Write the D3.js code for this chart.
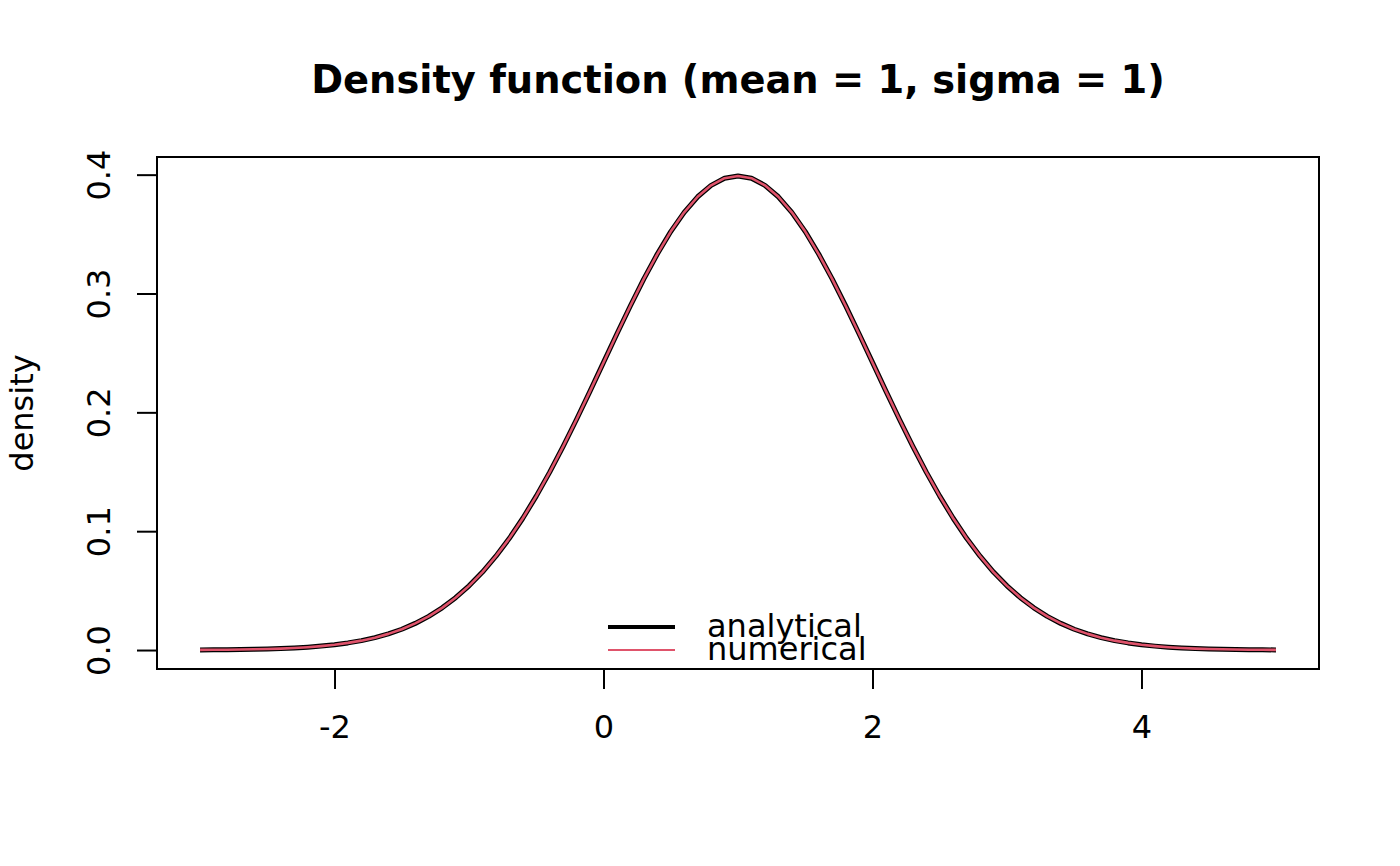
<!DOCTYPE html>
<html>
<head>
<meta charset="utf-8">
<script src="https://cdn.jsdelivr.net/npm/d3@7"></script>
<style>
  body { margin: 0; background: #fff; }
  text { font-family: "DejaVu Sans", sans-serif; fill: #000; }
</style>
</head>
<body>
<div id="chart-area"></div>
<script>
// grid of x values the density was evaluated at
var xValues = [-3.0, -2.9, -2.8, -2.7, -2.6, -2.5, -2.4, -2.3, -2.2, -2.1,
    -2.0, -1.9, -1.8, -1.7, -1.6, -1.5, -1.4, -1.3, -1.2, -1.1,
    -1.0, -0.9, -0.8, -0.7, -0.6, -0.5, -0.4, -0.3, -0.2, -0.1,
    0.0, 0.1, 0.2, 0.3, 0.4, 0.5, 0.6, 0.7, 0.8, 0.9,
    1.0, 1.1, 1.2, 1.3, 1.4, 1.5, 1.6, 1.7, 1.8, 1.9,
    2.0, 2.1, 2.2, 2.3, 2.4, 2.5, 2.6, 2.7, 2.8, 2.9,
    3.0, 3.1, 3.2, 3.3, 3.4, 3.5, 3.6, 3.7, 3.8, 3.9,
    4.0, 4.1, 4.2, 4.3, 4.4, 4.5, 4.6, 4.7, 4.8, 4.9, 5.0];

var analytical = [0.0001, 0.0002, 0.0003, 0.0004, 0.0006, 0.0009, 0.0012, 0.0017, 0.0024, 0.0033,
    0.0044, 0.0060, 0.0079, 0.0104, 0.0136, 0.0175, 0.0224, 0.0283, 0.0355, 0.0440,
    0.0540, 0.0656, 0.0790, 0.0940, 0.1109, 0.1295, 0.1497, 0.1714, 0.1942, 0.2179,
    0.2420, 0.2661, 0.2897, 0.3123, 0.3332, 0.3521, 0.3683, 0.3814, 0.3910, 0.3970,
    0.3989, 0.3970, 0.3910, 0.3814, 0.3683, 0.3521, 0.3332, 0.3123, 0.2897, 0.2661,
    0.2420, 0.2179, 0.1942, 0.1714, 0.1497, 0.1295, 0.1109, 0.0940, 0.0790, 0.0656,
    0.0540, 0.0440, 0.0355, 0.0283, 0.0224, 0.0175, 0.0136, 0.0104, 0.0079, 0.0060,
    0.0044, 0.0033, 0.0024, 0.0017, 0.0012, 0.0009, 0.0006, 0.0004, 0.0003, 0.0002, 0.0001];

var numerical = [0.0001, 0.0002, 0.0003, 0.0004, 0.0006, 0.0009, 0.0012, 0.0017, 0.0024, 0.0033,
    0.0044, 0.0060, 0.0079, 0.0104, 0.0136, 0.0175, 0.0224, 0.0283, 0.0355, 0.0440,
    0.0540, 0.0656, 0.0790, 0.0940, 0.1109, 0.1295, 0.1497, 0.1714, 0.1942, 0.2179,
    0.2420, 0.2661, 0.2897, 0.3123, 0.3332, 0.3521, 0.3683, 0.3814, 0.3910, 0.3970,
    0.3989, 0.3970, 0.3910, 0.3814, 0.3683, 0.3521, 0.3332, 0.3123, 0.2897, 0.2661,
    0.2420, 0.2179, 0.1942, 0.1714, 0.1497, 0.1295, 0.1109, 0.0940, 0.0790, 0.0656,
    0.0540, 0.0440, 0.0355, 0.0283, 0.0224, 0.0175, 0.0136, 0.0104, 0.0079, 0.0060,
    0.0044, 0.0033, 0.0024, 0.0017, 0.0012, 0.0009, 0.0006, 0.0004, 0.0003, 0.0002, 0.0001];

var xTicks = [-2, 0, 2, 4];
var yTicks = [0.0, 0.1, 0.2, 0.3, 0.4];
var legendLabels = ['analytical', 'numerical'];

var W = 1400, H = 866;
var box = { left: 157, right: 1319, top: 157, bottom: 669 };

var svg = d3.select('#chart-area')
    .append('svg')
    .attr('width', W)
    .attr('height', H);

// R style: data range padded by 4% on each side
var xMin = d3.min(xValues), xMax = d3.max(xValues);
var xPad = (xMax - xMin) * 0.04;
var xScale = d3.scaleLinear()
    .domain([xMin - xPad, xMax + xPad])
    .range([box.left, box.right]);

var yMax = d3.max(analytical);
var yPad = yMax * 0.04;
var yScale = d3.scaleLinear()
    .domain([0 - yPad, yMax + yPad])
    .range([box.bottom, box.top]);

// axes
var xAxis = svg.append('g')
    .attr('transform', 'translate(0,' + box.bottom + ')')
    .call(d3.axisBottom(xScale).tickValues(xTicks).tickSize(20).tickPadding(14)
        .tickFormat(function(d) { return d < 0 ? '-' + Math.abs(d) : d; }));
xAxis.select('.domain')
    .attr('d', 'M' + xScale(xTicks[0]) + ',0H' + xScale(xTicks[xTicks.length - 1]));
xAxis.selectAll('line').attr('stroke-width', 2);
xAxis.selectAll('text')
    .attr('font-size', '32px')
    .attr('font-family', 'DejaVu Sans')
    .attr('dy', null)
    .attr('y', 69);

var yAxis = svg.append('g')
    .attr('transform', 'translate(' + box.left + ',0)')
    .call(d3.axisLeft(yScale).tickValues(yTicks).tickSize(20)
        .tickFormat(d3.format('.1f')));
yAxis.select('.domain').remove();
yAxis.selectAll('line').attr('stroke-width', 2);
yAxis.selectAll('text')
    .attr('font-size', '32px')
    .attr('font-family', 'DejaVu Sans')
    .attr('text-anchor', 'middle')
    .attr('x', null)
    .attr('dy', null)
    .attr('transform', 'translate(-47,0) rotate(-90)');

xAxis.select('.domain').attr('stroke-width', 2);

// plot box
svg.append('rect')
    .attr('x', box.left)
    .attr('y', box.top)
    .attr('width', box.right - box.left)
    .attr('height', box.bottom - box.top)
    .attr('fill', 'none')
    .attr('stroke', '#000')
    .attr('stroke-width', 2);

// curves
var line = d3.line()
    .x(function(d, i) { return xScale(xValues[i]); })
    .y(function(d) { return yScale(d); });

svg.append('path')
    .datum(analytical)
    .attr('d', line)
    .attr('fill', 'none')
    .attr('stroke', '#000')
    .attr('stroke-width', 5)
    .attr('stroke-linejoin', 'round');

svg.append('path')
    .datum(numerical)
    .attr('d', line)
    .attr('fill', 'none')
    .attr('stroke', '#DF536B')
    .attr('stroke-width', 2.6)
    .attr('stroke-linejoin', 'round');

// title and axis label
svg.append('text')
    .text('Density function (mean = 1, sigma = 1)')
    .attr('x', (box.left + box.right) / 2)
    .attr('y', 93)
    .attr('text-anchor', 'middle')
    .attr('font-size', '38.4px')
    .attr('font-weight', 'bold');

svg.append('text')
    .text('density')
    .attr('text-anchor', 'middle')
    .attr('font-size', '32px')
    .attr('transform', 'translate(33,' + (box.top + box.bottom) / 2 + ') rotate(-90)');

// legend, no frame
var legendColors = ['#000', '#DF536B'];
var legendWidths = [4, 2];
var legend = svg.append('g');
legendLabels.forEach(function(lab, i) {
    var ly = 627 + i * 23;
    legend.append('line')
        .attr('x1', 608).attr('x2', 675)
        .attr('y1', ly).attr('y2', ly)
        .attr('stroke', legendColors[i])
        .attr('stroke-width', legendWidths[i]);
    legend.append('text')
        .text(lab)
        .attr('x', 707)
        .attr('y', ly + 10)
        .attr('font-size', '32px');
});
</script>
</body>
</html>
